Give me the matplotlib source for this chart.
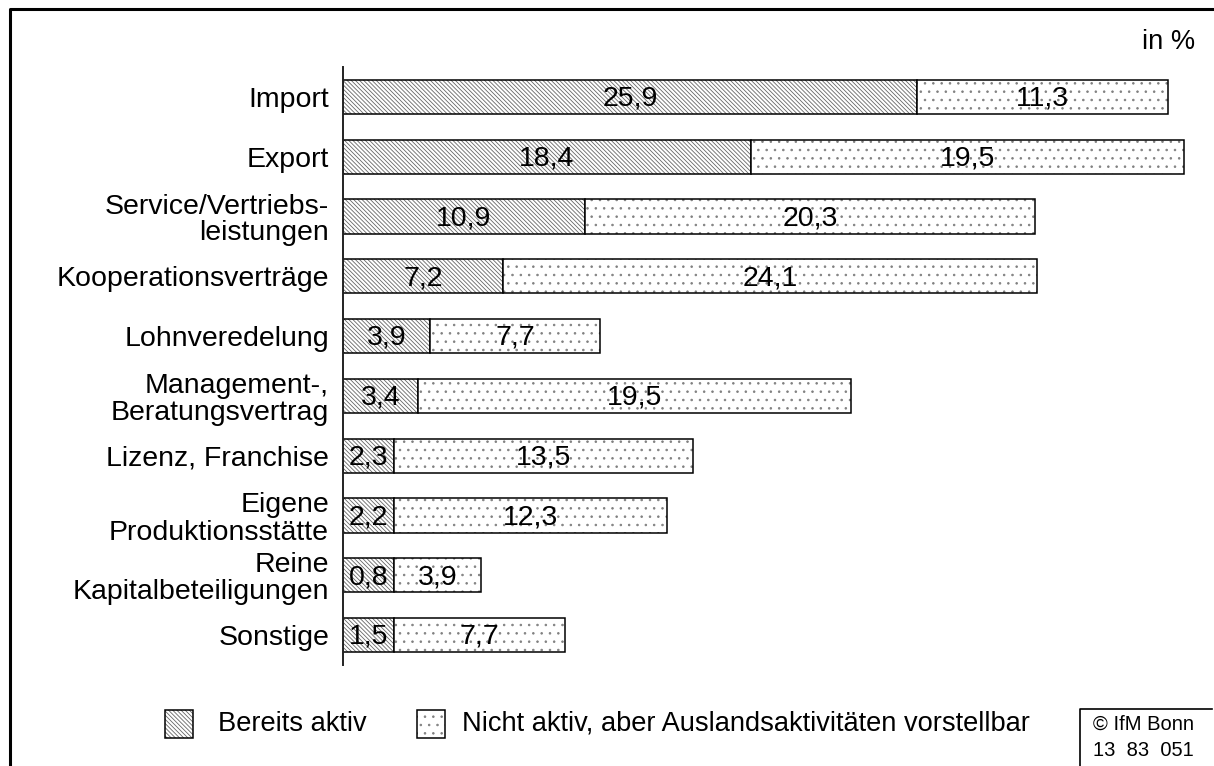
import matplotlib
matplotlib.use("Agg")
import matplotlib.pyplot as plt
from matplotlib.patches import Rectangle
from matplotlib.lines import Line2D

plt.rcParams['font.family'] = ['Liberation Sans', 'DejaVu Sans']
plt.rcParams['hatch.linewidth'] = 0.6

# Daten (in %)
categories = ["Import", "Export", "Service/Vertriebs-\nleistungen", "Kooperationsverträge",
              "Lohnveredelung", "Management-,\nBeratungsvertrag", "Lizenz, Franchise",
              "Eigene\nProduktionsstätte", "Reine\nKapitalbeteiligungen", "Sonstige"]
aktiv = [25.9, 18.4, 10.9, 7.2, 3.9, 3.4, 2.3, 2.2, 0.8, 1.5]
vorstellbar = [11.3, 19.5, 20.3, 24.1, 7.7, 19.5, 13.5, 12.3, 3.9, 7.7]
legend_labels = ["Bereits aktiv", "Nicht aktiv, aber Auslandsaktivitäten vorstellbar"]

# im Original sind sehr kleine Segmente verbreitert, damit die Zahl hineinpasst
MIN_SEG = 2.3

W, H = 1214, 766
FS = 20.5
FS_LEG = 19.6
HATCH_A = "\\" * 8
HATCH_B = ".."
COL_A = "#666666"
COL_B = "#808080"

fig = plt.figure(figsize=(W / 100, H / 100), dpi=100)
ax = fig.add_axes([343 / W, 101 / H, 857 / W, 598 / H])

def fmt(v):
    return f"{v:.1f}".replace(".", ",")

y = list(range(len(categories)))
w1 = [max(v, MIN_SEG) for v in aktiv]
bh = 0.57

# Segment 1: Bereits aktiv
ax.barh(y, w1, height=bh, color="white", edgecolor=COL_A, hatch=HATCH_A, linewidth=0)
ax.barh(y, w1, height=bh, fill=False, edgecolor="black", linewidth=1.1)
# Segment 2: vorstellbar
ax.barh(y, vorstellbar, left=w1, height=bh, color="white", edgecolor=COL_B, hatch=HATCH_B, linewidth=0)
ax.barh(y, vorstellbar, left=w1, height=bh, fill=False, edgecolor="black", linewidth=1.1)

for i in y:
    ax.text(w1[i] / 2, i + 0.03, fmt(aktiv[i]), ha="center", va="center", fontsize=FS)
    ax.text(w1[i] + vorstellbar[i] / 2, i + 0.03, fmt(vorstellbar[i]), ha="center", va="center", fontsize=FS)

ax.set_xlim(0, 857 / 22.18)
ax.set_ylim(len(categories) - 0.5, -0.5)
ax.set_yticks(y, categories)
ax.set_xticks([])
ax.tick_params(axis="y", length=0, pad=10, labelsize=FS)
for t in ax.get_yticklabels():
    t.set_linespacing(1.05)
for s in ["top", "right", "bottom"]:
    ax.spines[s].set_visible(False)
ax.spines["left"].set_linewidth(1.4)
ax.spines["left"].set_color("#222222")

fig.text(1195 / W, 1 - 42 / H, "in %", ha="right", va="center", fontsize=FS_LEG)

# Legende
ly = 724
for x0, hatch, hc, txt, tx in [(165, HATCH_A, COL_A, legend_labels[0], 218),
                               (417, HATCH_B, COL_B, legend_labels[1], 462)]:
    fig.patches.append(Rectangle((x0 / W, (H - ly - 14) / H), 28 / W, 28 / H,
                                 transform=fig.transFigure, facecolor="white",
                                 edgecolor=hc, hatch=hatch, linewidth=0))
    fig.patches.append(Rectangle((x0 / W, (H - ly - 14) / H), 28 / W, 28 / H,
                                 transform=fig.transFigure, fill=False,
                                 edgecolor="black", linewidth=1.1))
    fig.text(tx / W, 1 - ly / H, txt, ha="left", va="center", fontsize=FS_LEG)

# Copyright-Kasten
fig.lines.append(Line2D([1080 / W, 1080 / W, 1212 / W], [0, (H - 709) / H, (H - 709) / H],
                        transform=fig.transFigure, color="black", linewidth=1.2))
fig.text(1093 / W, 1 - 724 / H, "© IfM Bonn", ha="left", va="center", fontsize=14.5)
fig.text(1093 / W, 1 - 750 / H, "13  83  051", ha="left", va="center", fontsize=14.5)

# Rahmen oben und links
fig.lines.append(Line2D([9.5 / W, 9.5 / W, 1], [0, 1 - 8.5 / H, 1 - 8.5 / H],
                        transform=fig.transFigure, color="black", linewidth=2.2))

fig.savefig("out.png", dpi=100)
